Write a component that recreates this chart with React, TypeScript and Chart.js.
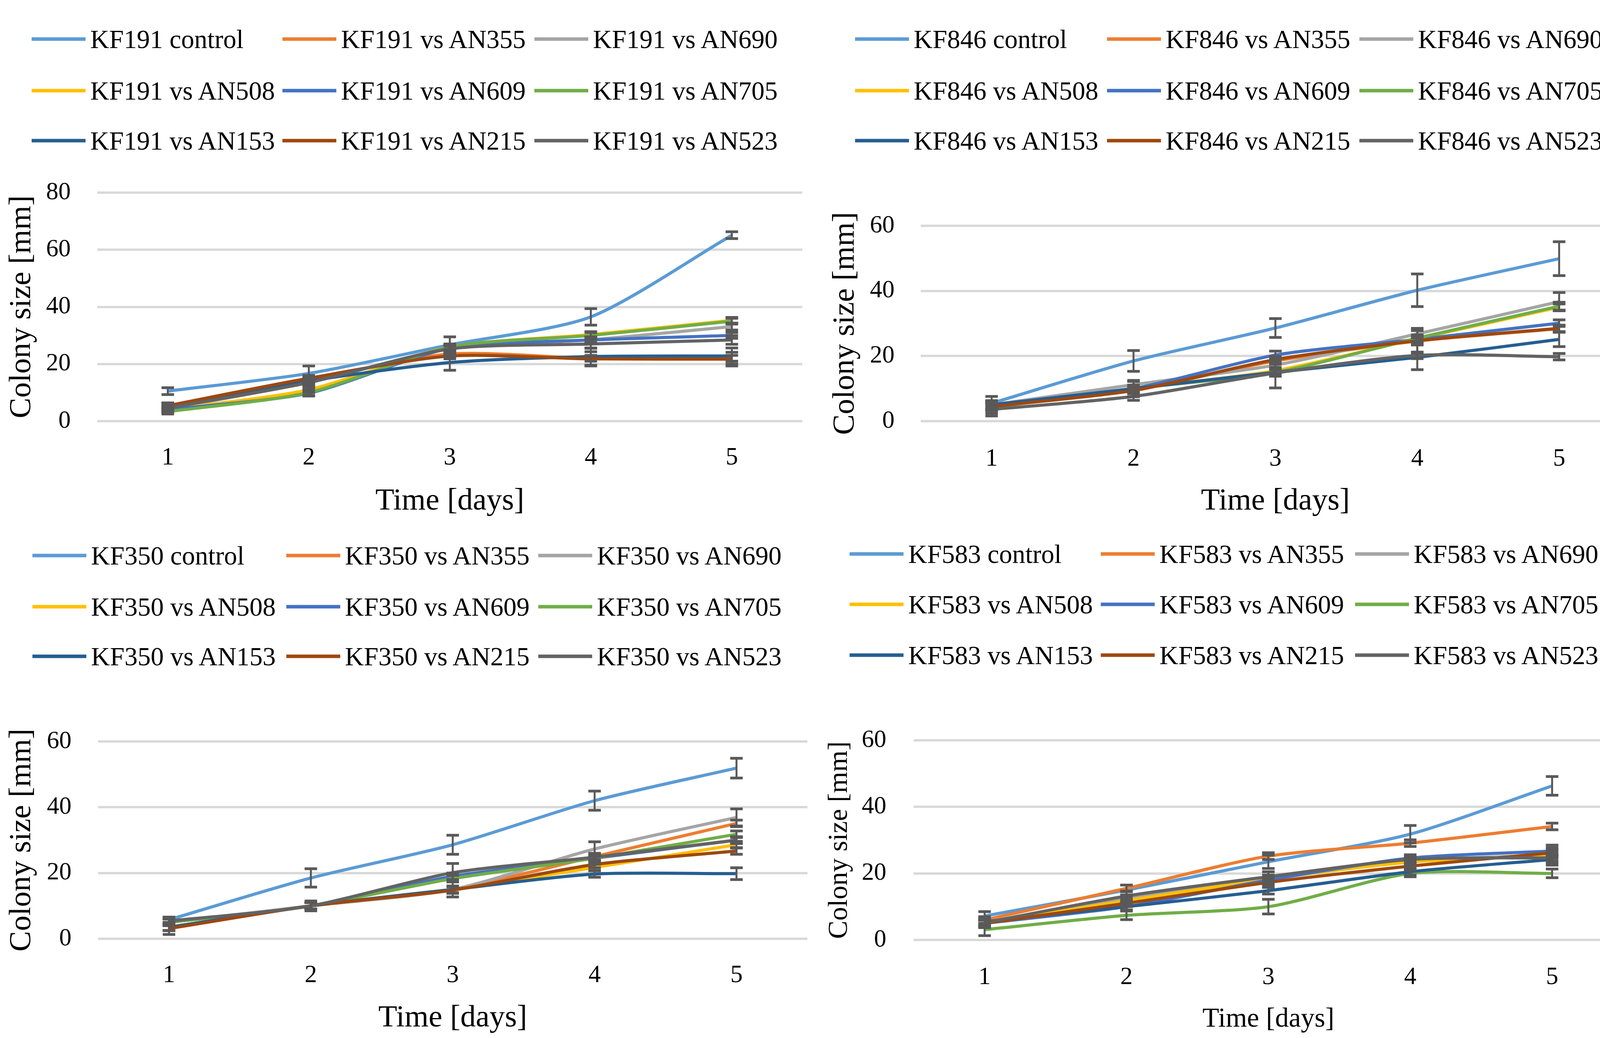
import React, { useEffect, useRef } from 'react';
import { Chart, registerables } from 'chart.js';

Chart.register(...registerables);

// ---------- data ----------
const DAYS = ['1', '2', '3', '4', '5'];
const PARTNERS = ['AN355', 'AN690', 'AN508', 'AN609', 'AN705', 'AN153', 'AN215', 'AN523'];
const SERIES_COLORS = ['#5B9BD5', '#ED7D31', '#A5A5A5', '#FFC000', '#4472C4', '#70AD47', '#255E91', '#9E480E', '#636363'];
const Y_AXIS_TITLE = 'Colony size [mm]';
const X_AXIS_TITLE = 'Time [days]';

// rows: control, AN355, AN690, AN508, AN609, AN705, AN153, AN215, AN523
const KF191_MEANS = [
  [10.5, 16.7, 26.7, 36.5, 65.1],
  [5.3, 14.5, 23.5, 22.0, 22.0],
  [4.3, 13.5, 25.3, 28.5, 33.1],
  [4.0, 11.0, 26.0, 30.3, 35.3],
  [4.0, 9.8, 25.5, 28.4, 30.0],
  [3.3, 10.0, 26.0, 30.0, 35.0],
  [4.6, 14.0, 20.5, 22.6, 22.8],
  [5.4, 15.0, 22.8, 21.8, 21.7],
  [4.6, 13.5, 25.3, 27.0, 28.4],
];
const KF191_ERRORS = [
  [1.2, 2.6, 2.8, 2.9, 1.2],
  [1.0, 1.0, 1.0, 1.0, 1.0],
  [0.8, 1.0, 1.0, 1.0, 1.2],
  [0.8, 1.0, 1.0, 1.0, 1.0],
  [0.8, 1.0, 1.0, 1.0, 1.0],
  [0.8, 1.0, 1.0, 1.0, 1.0],
  [0.8, 1.0, 2.7, 3.0, 2.8],
  [1.0, 1.0, 1.0, 2.5, 2.4],
  [1.7, 1.5, 1.0, 1.5, 1.5],
];

const KF846_MEANS = [
  [5.5, 18.5, 28.6, 40.2, 49.9],
  [4.6, 9.5, 18.5, 24.6, 28.4],
  [5.0, 11.2, 17.2, 26.8, 36.7],
  [4.3, 10.0, 15.5, 25.3, 35.0],
  [5.0, 10.0, 20.3, 25.1, 30.1],
  [4.2, 10.0, 15.0, 25.5, 35.3],
  [5.0, 10.0, 15.0, 19.6, 25.1],
  [4.5, 9.4, 18.9, 24.7, 28.5],
  [3.6, 7.6, 14.8, 20.2, 19.8],
];
const KF846_ERRORS = [
  [0.8, 3.2, 2.9, 5.0, 5.2],
  [1.0, 1.0, 1.0, 1.0, 1.0],
  [1.0, 1.0, 1.0, 1.0, 2.8],
  [1.0, 1.0, 1.0, 1.0, 1.0],
  [2.6, 1.0, 1.2, 1.0, 1.0],
  [1.0, 1.0, 1.0, 1.0, 1.2],
  [1.0, 2.5, 4.8, 3.8, 2.2],
  [1.0, 1.0, 1.0, 3.8, 1.0],
  [2.0, 1.2, 1.0, 1.0, 1.0],
];

const KF350_MEANS = [
  [5.8, 18.5, 28.6, 42.0, 51.9],
  [3.5, 10.0, 15.0, 25.0, 35.1],
  [5.0, 10.0, 15.0, 27.3, 36.9],
  [3.5, 10.0, 15.0, 21.7, 28.6],
  [5.0, 10.0, 19.0, 24.5, 30.0],
  [5.0, 10.0, 18.3, 24.5, 31.8],
  [3.5, 10.0, 15.0, 19.7, 19.8],
  [3.1, 10.0, 14.8, 22.6, 26.7],
  [5.4, 10.0, 20.1, 24.8, 30.0],
];
const KF350_ERRORS = [
  [0.8, 2.8, 2.9, 2.9, 3.0],
  [1.0, 1.0, 1.0, 1.0, 1.0],
  [1.0, 1.0, 1.0, 2.2, 2.6],
  [1.0, 1.0, 1.0, 1.0, 1.0],
  [1.0, 1.0, 1.0, 1.0, 1.0],
  [1.0, 1.0, 1.0, 1.0, 1.0],
  [1.0, 1.0, 2.3, 1.0, 1.8],
  [1.8, 1.0, 1.0, 1.0, 1.0],
  [1.2, 1.5, 2.8, 1.0, 1.0],
];

const KF583_MEANS = [
  [7.2, 15.0, 23.5, 31.8, 46.3],
  [6.0, 15.5, 25.2, 29.1, 34.1],
  [5.0, 12.5, 18.5, 23.8, 25.5],
  [5.0, 11.8, 18.3, 23.4, 25.5],
  [5.0, 10.0, 18.0, 24.6, 26.7],
  [3.1, 7.4, 10.0, 20.0, 20.0],
  [5.5, 10.0, 14.8, 20.5, 24.2],
  [5.0, 11.0, 17.3, 22.2, 26.2],
  [5.2, 13.2, 19.0, 24.2, 24.7],
];
const KF583_ERRORS = [
  [1.3, 1.5, 2.0, 2.6, 2.8],
  [1.0, 1.0, 1.0, 1.0, 1.0],
  [1.0, 1.0, 1.0, 1.0, 3.0],
  [1.0, 1.0, 1.0, 1.0, 1.0],
  [1.0, 1.0, 1.0, 1.0, 1.0],
  [1.8, 1.3, 2.2, 1.0, 1.3],
  [1.0, 1.0, 1.0, 1.0, 1.0],
  [1.0, 1.0, 1.0, 1.0, 1.0],
  [1.5, 1.5, 1.5, 1.0, 1.0],
];

// ---------- layout ----------
const FONT = "'Liberation Serif', 'Times New Roman', serif";

const PANELS = [
  {
    strain: 'KF191', means: KF191_MEANS, errors: KF191_ERRORS, yMax: 80,
    canvas: { left: 0, top: 380, width: 2108, height: 950 },
    plot: { left: 249, right: 2054, top: 493, bottom: 1078 },
    yTickRight: 181, yTitleX: 56, xTickY: 1172, xTitleY: 1283, titleSize: 79,
    legendCols: [81, 723, 1368], legendRows: [100, 232, 360],
  },
  {
    strain: 'KF846', means: KF846_MEANS, errors: KF846_ERRORS, yMax: 60,
    canvas: { left: 2108, top: 440, width: 2109, height: 890 },
    plot: { left: 2357, right: 4173, top: 578, bottom: 1078 },
    yTickRight: 2290, yTitleX: 2164, xTickY: 1175, xTitleY: 1283, titleSize: 79,
    legendCols: [2189, 2834, 3480], legendRows: [100, 232, 360],
  },
  {
    strain: 'KF350', means: KF350_MEANS, errors: KF350_ERRORS, yMax: 60,
    canvas: { left: 0, top: 1780, width: 2108, height: 877 },
    plot: { left: 251, right: 2067, top: 1898, bottom: 2403 },
    yTickRight: 183, yTitleX: 56, xTickY: 2497, xTitleY: 2606, titleSize: 79,
    legendCols: [83, 733, 1378], legendRows: [1422, 1553, 1680],
  },
  {
    strain: 'KF583', means: KF583_MEANS, errors: KF583_ERRORS, yMax: 60,
    canvas: { left: 2108, top: 1780, width: 2109, height: 877 },
    plot: { left: 2339, right: 4155, top: 1895, bottom: 2406 },
    yTickRight: 2269, yTitleX: 2150, xTickY: 2502, xTitleY: 2610, titleSize: 70,
    legendCols: [2175, 2818, 3469], legendRows: [1418, 1547, 1677],
  },
];

const TICK_SIZE = 63;
const LEGEND_SIZE = 67;

function seriesLabels(strain: string): string[] {
  return [`${strain} control`, ...PARTNERS.map((p) => `${strain} vs ${p}`)];
}

const errorBarPlugin = {
  id: 'errorBars',
  afterDatasetsDraw(chart: any) {
    const { ctx } = chart;
    const yScale = chart.scales.y;
    ctx.save();
    ctx.strokeStyle = '#595959';
    chart.data.datasets.forEach((ds: any, di: number) => {
      const meta = chart.getDatasetMeta(di);
      const errs: number[] = ds.errors || [];
      meta.data.forEach((pt: any, i: number) => {
        const v = ds.data[i];
        const e = errs[i] || 0;
        const top = yScale.getPixelForValue(v + e);
        const bot = yScale.getPixelForValue(v - e);
        const x = pt.x;
        ctx.lineWidth = 5;
        ctx.beginPath();
        ctx.moveTo(x, top);
        ctx.lineTo(x, bot);
        ctx.stroke();
        ctx.lineWidth = 7;
        ctx.beginPath();
        ctx.moveTo(x - 16, top);
        ctx.lineTo(x + 16, top);
        ctx.moveTo(x - 16, bot);
        ctx.lineTo(x + 16, bot);
        ctx.stroke();
      });
    });
    ctx.restore();
  },
};

function Panel({ cfg }: { cfg: any }) {
  const ref = useRef<HTMLCanvasElement | null>(null);
  const labels = seriesLabels(cfg.strain);

  useEffect(() => {
    if (!ref.current) return;
    const c = cfg.canvas;
    const p = cfg.plot;
    const n = labels.length;
    const chart = new Chart(ref.current, {
      type: 'line',
      data: {
        labels: DAYS,
        datasets: labels.map((label, i) => ({
          label,
          data: cfg.means[i],
          errors: cfg.errors[i],
          borderColor: SERIES_COLORS[i],
          backgroundColor: SERIES_COLORS[i],
          borderWidth: 8,
          pointRadius: 0,
          tension: 0.25,
          fill: false,
          order: n - 1 - i,
        })) as any,
      },
      options: {
        animation: false,
        responsive: false,
        devicePixelRatio: 1,
        layout: {
          padding: { left: 0, top: p.top - c.top, right: c.left + c.width - p.right, bottom: 0 },
        },
        plugins: { legend: { display: false }, tooltip: { enabled: false } },
        scales: {
          x: {
            type: 'category',
            offset: true,
            grid: { display: false, drawTicks: false },
            border: { display: false },
            ticks: {
              color: '#000',
              padding: cfg.xTickY - p.bottom - TICK_SIZE / 2,
              font: { family: FONT, size: TICK_SIZE, lineHeight: 1 },
              maxRotation: 0,
              autoSkip: false,
            },
            title: {
              display: true,
              text: X_AXIS_TITLE,
              color: '#000',
              font: { family: FONT, size: cfg.titleSize, lineHeight: 1 },
              padding: { top: 0, bottom: c.top + c.height - cfg.xTitleY - cfg.titleSize / 2 },
            },
            afterFit: (s: any) => {
              s.height = c.top + c.height - p.bottom;
            },
          },
          y: {
            min: 0,
            max: cfg.yMax,
            grid: { color: '#D9D9D9', lineWidth: 6, drawTicks: false },
            border: { display: false },
            ticks: {
              stepSize: 20,
              color: '#000',
              padding: p.left - cfg.yTickRight,
              font: { family: FONT, size: TICK_SIZE, lineHeight: 1 },
            },
            title: {
              display: true,
              text: Y_AXIS_TITLE,
              color: '#000',
              font: { family: FONT, size: cfg.titleSize, lineHeight: 1 },
              padding: { top: cfg.yTitleX - c.left - cfg.titleSize / 2, bottom: 0 },
            },
            afterFit: (s: any) => {
              s.width = p.left - c.left;
            },
          },
        },
      } as any,
      plugins: [errorBarPlugin],
    });
    return () => chart.destroy();
  }, []);

  const c = cfg.canvas;
  return (
    <>
      <canvas
        ref={ref}
        width={c.width}
        height={c.height}
        style={{ position: 'absolute', left: c.left, top: c.top, width: c.width, height: c.height }}
      />
      {labels.map((label, i) => {
        const col = i % 3;
        const row = Math.floor(i / 3);
        const x = cfg.legendCols[col];
        const y = cfg.legendRows[row];
        return (
          <div
            key={label}
            style={{
              position: 'absolute',
              left: x,
              top: y,
              transform: 'translateY(-50%)',
              display: 'flex',
              alignItems: 'center',
              whiteSpace: 'nowrap',
              fontFamily: FONT,
              fontSize: LEGEND_SIZE,
              lineHeight: 1,
              color: '#000',
            }}
          >
            <div style={{ width: 138, height: 9, background: SERIES_COLORS[i], marginRight: 12 }} />
            <span>{label}</span>
          </div>
        );
      })}
    </>
  );
}

export default function App() {
  return (
    <div
      style={{
        position: 'absolute',
        left: 0,
        top: 0,
        width: 4217,
        height: 2657,
        background: '#fff',
        overflow: 'hidden',
      }}
    >
      {PANELS.map((cfg) => (
        <Panel key={cfg.strain} cfg={cfg} />
      ))}
    </div>
  );
}
